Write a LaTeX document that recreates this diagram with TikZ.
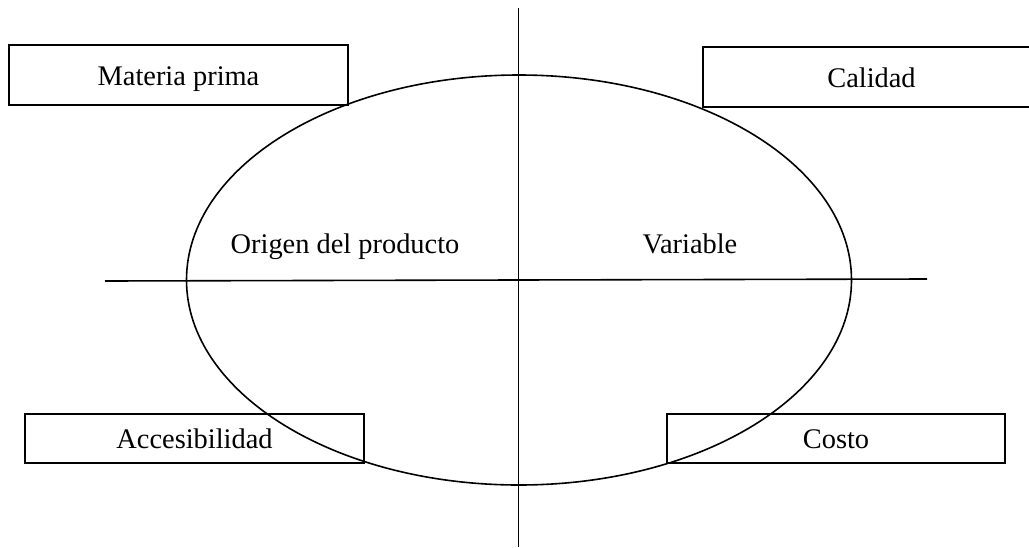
\documentclass[tikz,border=0pt]{standalone}
\usepackage{fontspec}
\setmainfont{Liberation Serif}
\begin{document}
\begin{tikzpicture}[x=1pt,y=-1pt,
  lbl/.style={font=\fontsize{28.4}{32}\selectfont},
  tagbox/.style={draw,line width=1.7pt,inner sep=0pt,lbl,text height=20pt,text depth=0pt},
  axis/.style={line width=1.6pt}]
\useasboundingbox (0,0) rectangle (1029,547);
% central ellipse
\draw[line width=1.6pt] (519,280) ellipse [x radius=332.5, y radius=205];
% axes
\coordinate (hl) at (105,281);
\coordinate (hr) at (927,279);
\coordinate (vt) at (518.5,8);
\coordinate (vb) at (518.5,547);
\draw[axis] (hl) -- (hr);
\draw[axis] (vt) -- (vb);
% corner boxes
\node[tagbox,minimum width=339,minimum height=60] (mp) at (178.5,75) {Materia prima};
\node[tagbox,minimum width=337,minimum height=60] (cal) at (871.5,77) {Calidad};
\node[tagbox,minimum width=339,minimum height=49] (acc) at (194.5,438.5) {Accesibilidad};
\node[tagbox,minimum width=338,minimum height=49] (cos) at (836,438.5) {Costo};
% quadrant labels
\node[lbl,anchor=base] (org) at (345,253) {Origen del producto};
\node[lbl,anchor=base] (var) at (690,253) {Variable};
\end{tikzpicture}
\end{document}
